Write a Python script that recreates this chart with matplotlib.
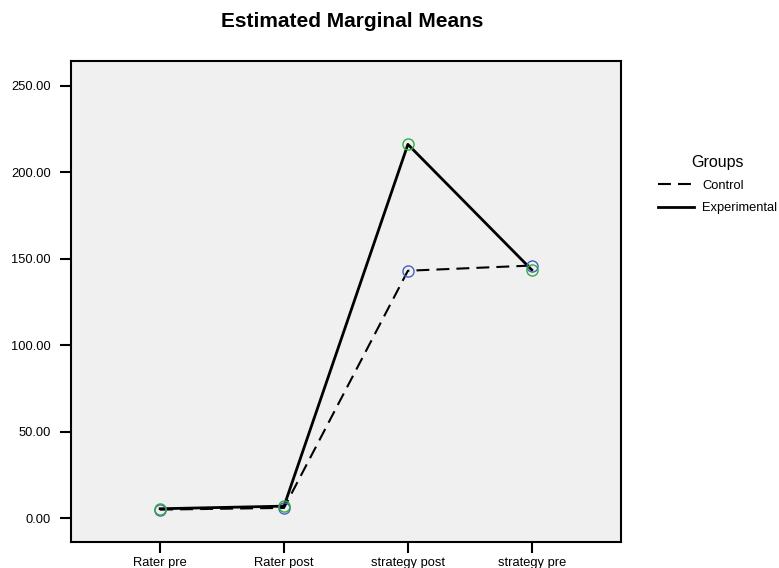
import matplotlib
matplotlib.use("Agg")
import matplotlib.pyplot as plt
from matplotlib.lines import Line2D

categories = ["Rater pre", "Rater post", "strategy post", "strategy pre"]
control = [5.0, 6.0, 143.0, 146.0]
experimental = [5.5, 7.0, 216.0, 143.5]
yticks = [0, 50, 100, 150, 200, 250]

plt.rcParams['font.family'] = ['Liberation Sans', 'DejaVu Sans']

fig = plt.figure(figsize=(7.79, 5.68), dpi=100)
ax = fig.add_axes([0.0911, 0.0458, 0.706, 0.846])
ax.set_facecolor('#f0f0f0')

dash = (0, (6.2, 3.4))
x = list(range(len(categories)))
ax.plot(x, control, color='black', lw=1.5, ls=dash, zorder=3)
ax.plot(x, experimental, color='black', lw=2.0, ls='-', zorder=3)
ax.plot(x, control, ls='none', marker='o', ms=8, mfc='none', mec='#4a5ec4', mew=1.0, zorder=4)
ax.plot(x, experimental, ls='none', marker='o', ms=8, mfc='none', mec='#2fb040', mew=1.0, zorder=4)

ax.set_xlim(-0.72, 3.72)
ax.set_ylim(-13.7, 263.9)
ax.set_xticks(x)
ax.set_xticklabels(categories)
ax.set_yticks(yticks)
ax.set_yticklabels([f"{v:.2f}" for v in yticks])
ax.tick_params(axis='both', direction='out', length=8, width=1.5, labelsize=9.3, colors='black')
ax.tick_params(axis='x', pad=3)
ax.tick_params(axis='y', pad=6.5)
for s in ax.spines.values():
    s.set_linewidth(1.5)
    s.set_color('black')

fig.text(0.452, 0.962, "Estimated Marginal Means", ha='center', va='center', fontsize=15, fontweight='bold')

handles = [Line2D([], [], color='black', lw=1.5, ls=dash),
           Line2D([], [], color='black', lw=2.0)]
leg = fig.legend(handles, ["Control", "Experimental"], title="Groups",
                 loc='upper left', bbox_to_anchor=(0.838, 0.737), frameon=False,
                 fontsize=9.3, title_fontsize=11.5, handlelength=2.8, handletextpad=0.6,
                 labelspacing=0.8, borderaxespad=0)
fig.savefig("out.png", dpi=100)
